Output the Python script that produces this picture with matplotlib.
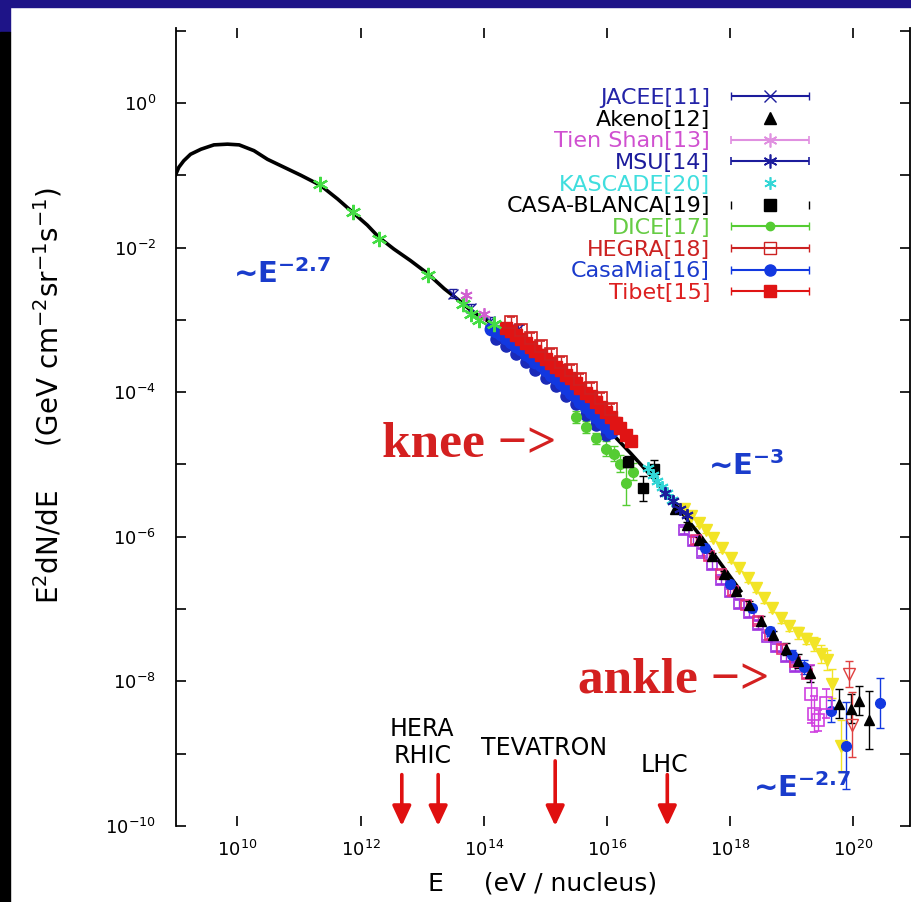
import numpy as np
import matplotlib
matplotlib.use('Agg')
import matplotlib.pyplot as plt
from matplotlib.patches import Rectangle
from matplotlib.ticker import FixedLocator, NullLocator, FuncFormatter
from matplotlib.legend_handler import HandlerErrorbar
from matplotlib.container import ErrorbarContainer

plt.rcParams['font.family'] = ['DejaVu Sans']
plt.rcParams['mathtext.default'] = 'regular'

# all values are log10(E / eV) and log10(E^2 dN/dE)
curve_logE = [9.00, 9.05, 9.13, 9.24, 9.41, 9.62, 9.84, 10.03, 10.27, 10.49, 10.76, 11.03,
              11.35, 11.63, 11.87, 12.11, 12.30, 12.54, 12.81, 13.09, 13.36, 13.57, 13.79,
              14.00, 14.17, 14.60, 15.25, 15.90, 16.39, 16.87, 17.52, 18.17]
curve_logF = [-0.99, -0.89, -0.80, -0.71, -0.64, -0.58, -0.57, -0.58, -0.66, -0.78, -0.89, -1.00,
              -1.14, -1.33, -1.51, -1.69, -1.86, -2.02, -2.18, -2.36, -2.57, -2.71, -2.87,
              -2.98, -3.07, -3.37, -3.86, -4.41, -4.85, -5.30, -5.99, -6.75]

direct_logE = [11.35, 11.87, 12.30, 13.09, 13.66, 13.79, 13.92, 14.16]
direct_logF = [-1.12, -1.51, -1.88, -2.38, -2.78, -2.92, -3.00, -3.06]

jacee_logE = [13.50, 13.80, 14.10, 14.55]
jacee_logF = [-2.64, -2.84, -3.02, -3.12]

tienshan_logE = [13.71, 14.00]
tienshan_logF = [-2.66, -2.92]

casamia_logE = [14.11, 14.20, 14.28, 14.36, 14.44, 14.52, 14.60, 14.68, 14.76, 14.84, 14.93, 15.01,
                15.09, 15.17, 15.25, 15.33, 15.41, 15.49, 15.57, 15.66, 15.74, 15.82, 15.90, 15.98, 16.06]
casamia_logF = [-3.12, -3.15, -3.19, -3.25, -3.30, -3.36, -3.41, -3.47, -3.52, -3.58, -3.63, -3.69,
                -3.76, -3.81, -3.88, -3.94, -4.01, -4.06, -4.13, -4.20, -4.27, -4.34, -4.41, -4.48, -4.55]

bluelow_logE = [14.20, 14.36, 14.52, 14.68, 14.84, 15.01, 15.17, 15.33, 15.49, 15.66, 15.82, 15.98]
bluelow_logF = [-3.26, -3.36, -3.47, -3.58, -3.69, -3.80, -3.92, -4.05, -4.17, -4.31, -4.45, -4.59]

tibet_logE = [14.36, 14.44, 14.52, 14.60, 14.68, 14.76, 14.84, 14.93, 15.01, 15.09, 15.17, 15.25, 15.33,
              15.41, 15.49, 15.57, 15.66, 15.74, 15.82, 15.90, 15.98, 16.06, 16.14, 16.22, 16.31, 16.39]
tibet_logF = [-3.11, -3.15, -3.21, -3.26, -3.32, -3.37, -3.43, -3.48, -3.54, -3.59, -3.65, -3.70, -3.76,
              -3.81, -3.88, -3.94, -4.01, -4.06, -4.13, -4.20, -4.27, -4.35, -4.42, -4.50, -4.59, -4.67]

hegra_logE = [14.44, 14.60, 14.76, 14.93, 15.09, 15.25, 15.41, 15.57, 15.74, 15.90, 16.06]
hegra_logF = [-3.03, -3.14, -3.25, -3.36, -3.47, -3.58, -3.69, -3.82, -3.94, -4.08, -4.23]

dice_logE = [15.49, 15.66, 15.82, 15.98, 16.11, 16.22, 16.31, 16.42]
dice_logF = [-4.34, -4.48, -4.64, -4.78, -4.85, -4.99, -5.26, -5.10]
dice_err = [0.08, 0.08, 0.08, 0.10, 0.10, 0.12, 0.30, 0.12]

casab_logE = [16.34, 16.58, 16.76]
casab_logF = [-4.96, -5.33, -5.06]
casab_err = [0.07, 0.17, 0.12]

kascade_logE = [16.66, 16.74, 16.82, 16.90, 16.98, 17.06]
kascade_logF = [-5.05, -5.14, -5.23, -5.31, -5.40, -5.49]

msu_logE = [16.95, 17.07, 17.18, 17.30]
msu_logF = [-5.40, -5.51, -5.61, -5.70]

akeno_logE = [17.10, 17.30, 17.50, 17.70, 17.90, 18.10, 18.30, 18.50, 18.70, 18.90, 19.10, 19.30,
              19.76, 19.96, 20.09, 20.25]
akeno_logF = [-5.62, -5.84, -6.05, -6.27, -6.52, -6.75, -6.94, -7.16, -7.36, -7.55, -7.72, -7.89,
              -8.31, -8.38, -8.27, -8.54]
akeno_err = [0.04, 0.04, 0.04, 0.04, 0.05, 0.05, 0.05, 0.06, 0.06, 0.08, 0.10, 0.12,
             0.20, 0.20, 0.20, 0.40]

purple_logE = [17.25, 17.40, 17.55, 17.70, 17.85, 18.00, 18.15, 18.30, 18.45, 18.60, 18.75, 18.90, 19.05]
purple_logF = [-5.91, -6.06, -6.22, -6.39, -6.60, -6.77, -6.93, -7.06, -7.22, -7.38, -7.53, -7.67, -7.80]

pink_logE = [17.45, 17.65, 17.85, 18.05, 18.25, 18.45, 18.65, 18.85, 19.05, 19.25]
pink_logF = [-6.05, -6.27, -6.51, -6.75, -6.94, -7.16, -7.36, -7.55, -7.73, -7.90]

yellow_logE = [17.25, 17.37, 17.49, 17.61, 17.73, 17.87, 18.01, 18.15, 18.29, 18.42, 18.55, 18.68,
               18.82, 18.96, 19.10, 19.23, 19.36, 19.47, 19.58, 19.65, 19.80]
yellow_logF = [-5.61, -5.71, -5.81, -5.91, -6.02, -6.16, -6.30, -6.43, -6.57, -6.71, -6.85, -6.98,
               -7.12, -7.23, -7.33, -7.41, -7.48, -7.62, -7.70, -8.03, -8.89]
yellow_err = [0.04, 0.04, 0.04, 0.04, 0.04, 0.05, 0.05, 0.05, 0.05, 0.06, 0.06, 0.06,
              0.07, 0.07, 0.08, 0.08, 0.10, 0.12, 0.14, 0.20, 0.35]

bandblue_logE = [17.60, 18.00, 18.35, 18.65, 19.00, 19.20, 19.63, 19.88, 20.44]
bandblue_logF = [-6.16, -6.65, -6.99, -7.31, -7.64, -7.80, -8.41, -8.89, -8.30]
bandblue_err = [0.04, 0.05, 0.05, 0.06, 0.08, 0.10, 0.15, 0.60, 0.35]

tail_sq_logE = [19.31, 19.36, 19.42, 19.55]
tail_sq_logF = [-8.17, -8.45, -8.54, -8.30]
tail_sq_err = [0.40, 0.25, 0.15, 0.20]

tail_red_logE = [19.93, 19.98]
tail_red_logF = [-7.90, -8.60]
tail_red_err = [0.18, 0.45]

accel_names = ['HERA', 'RHIC', 'TEVATRON', 'LHC']
accel_logE = [12.67, 13.26, 15.16, 16.98]
accel_arrow_top = [-9.29, -9.29, -9.10, -9.29]

navy = '#1c1c9c'
blue = '#1238e0'
red = '#e01414'
green = '#55cc33'
cyan = '#33d6d6'
magenta = '#d060d0'
yellow = '#f2e426'


def lin(a):
    return 10 ** np.asarray(a, dtype=float)


def logerr(lf, e):
    lf = np.asarray(lf, dtype=float)
    e = np.asarray(e, dtype=float) * np.ones_like(lf)
    return [10 ** lf - 10 ** (lf - e), 10 ** (lf + e) - 10 ** lf]


fig = plt.figure(figsize=(9.11, 9.02), dpi=100)
fig.patch.set_facecolor('white')
ax = fig.add_axes([0.1929, 0.0843, 0.8060, 0.8847])
ax.set_xscale('log')
ax.set_yscale('log')

ax.plot(lin(curve_logE), lin(curve_logF), color='black', lw=2.6, zorder=2)

eb = dict(ls='none', capsize=3, elinewidth=1.0, capthick=1.0, zorder=3)
ax.plot(lin(direct_logE), lin(direct_logF), ls='none', marker=(6, 2, 0), ms=11, mew=1.6,
        color='#44dd44', zorder=4)
ax.errorbar(lin(jacee_logE), lin(jacee_logF), yerr=logerr(jacee_logF, 0.06), marker='x', ms=7,
            color=navy, **eb)
ax.plot(lin(tienshan_logE), lin(tienshan_logF), ls='none', marker=(6, 2, 0), ms=9, mew=1.3,
        color=magenta, zorder=4)
ax.errorbar(lin(bluelow_logE), lin(bluelow_logF), yerr=logerr(bluelow_logF, 0.05), marker='o', ms=8,
            color='#1a2ab8', **eb)
ax.errorbar(lin(casamia_logE), lin(casamia_logF), yerr=logerr(casamia_logF, 0.05), marker='o', ms=9,
            color=blue, **eb)
ax.errorbar(lin(tibet_logE), lin(tibet_logF), yerr=logerr(tibet_logF, 0.07), marker='s', ms=9,
            color=red, **eb)
ax.errorbar(lin(hegra_logE), lin(hegra_logF), yerr=logerr(hegra_logF, 0.07), marker='s', ms=8,
            mfc='none', mew=1.2, color='#d02020', **eb)
ax.errorbar(lin(dice_logE), lin(dice_logF), yerr=logerr(dice_logF, dice_err), marker='o', ms=7,
            color=green, **eb)
ax.errorbar(lin(casab_logE), lin(casab_logF), yerr=logerr(casab_logF, casab_err), marker='s', ms=7,
            color='black', **eb)
ax.plot(lin(kascade_logE), lin(kascade_logF), ls='none', marker=(6, 2, 0), ms=9, mew=1.4,
        color=cyan, zorder=4)
ax.plot(lin(msu_logE), lin(msu_logF), ls='none', marker=(6, 2, 0), ms=9, mew=1.4,
        color=navy, zorder=4)
ax.errorbar(lin(yellow_logE), lin(yellow_logF), yerr=logerr(yellow_logF, yellow_err), marker='v', ms=8,
            color=yellow, **eb)
ax.errorbar(lin(purple_logE), lin(purple_logF), yerr=logerr(purple_logF, 0.05), marker='s', ms=7,
            mfc='none', mew=1.2, color='#a030e0', **eb)
ax.errorbar(lin(pink_logE), lin(pink_logF), yerr=logerr(pink_logF, 0.05), marker='s', ms=7,
            mfc='none', mew=1.2, color='#e8307a', **eb)
ax.errorbar(lin(bandblue_logE), lin(bandblue_logF), yerr=logerr(bandblue_logF, bandblue_err),
            marker='o', ms=7, color=blue, **eb)
ax.errorbar(lin(akeno_logE), lin(akeno_logF), yerr=logerr(akeno_logF, akeno_err), marker='^', ms=7,
            color='black', **eb)
ax.errorbar(lin(tail_sq_logE), lin(tail_sq_logF), yerr=logerr(tail_sq_logF, tail_sq_err), marker='s',
            ms=8, mfc='none', mew=1.2, color='#d040e0', **eb)
ax.errorbar(lin(tail_red_logE), lin(tail_red_logF), yerr=logerr(tail_red_logF, tail_red_err),
            marker='v', ms=8, mfc='none', mew=1.0, color='#e04040', **eb)

ax.set_xlim(1e9, 10 ** 20.92)
ax.set_ylim(1e-10, 10 ** 1.037)

ax.xaxis.set_major_locator(FixedLocator(lin([10, 12, 14, 16, 18, 20])))
ax.xaxis.set_minor_locator(NullLocator())
ax.yaxis.set_major_locator(FixedLocator(lin(np.arange(-10, 2))))
ax.yaxis.set_minor_locator(NullLocator())


def ylab(v, pos):
    p = int(round(np.log10(v)))
    return r'$10^{%d}$' % p if p % 2 == 0 else ''


ax.xaxis.set_major_formatter(FuncFormatter(lambda v, pos: r'$10^{%d}$' % int(round(np.log10(v)))))
ax.yaxis.set_major_formatter(FuncFormatter(ylab))
ax.tick_params(axis='both', which='major', direction='in', top=True, right=True,
               length=7.5, width=1.2, labelsize=13)
ax.tick_params(axis='x', pad=10)
ax.tick_params(axis='y', pad=14)
for s in ['top', 'bottom']:
    ax.spines[s].set_visible(False)
for s in ['left', 'right']:
    ax.spines[s].set_linewidth(1.3)

ax.set_xlabel('E     (eV / nucleus)', fontsize=18)
ax.xaxis.set_label_coords(0.5, -0.057)
ax.set_ylabel(r'E$^2$dN/dE     (GeV cm$^{-2}$sr$^{-1}$s$^{-1}$)', fontsize=20)
ax.yaxis.set_label_coords(-0.151, 0.54)

# legend built from proxy artists, text on the left
leg_labels = ['JACEE[11]', 'Akeno[12]', 'Tien Shan[13]', 'MSU[14]', 'KASCADE[20]',
              'CASA-BLANCA[19]', 'DICE[17]', 'HEGRA[18]', 'CasaMia[16]', 'Tibet[15]']
leg_text_colors = ['#2424a8', 'black', '#d050d0', '#1c1c9c', '#40dede',
                   'black', '#66cc44', '#cc2222', '#1a3acc', '#dd1f1f']
handles = [
    ax.errorbar([np.nan], [np.nan], xerr=[1], marker='x', ms=8, color=navy, capsize=3, ls='none'),
    ax.plot([np.nan], [np.nan], ls='none', marker='^', ms=8, color='black')[0],
    ax.errorbar([np.nan], [np.nan], xerr=[1], marker=(6, 2, 0), ms=10, mew=1.2, color='#e090e0',
                capsize=3, ls='none'),
    ax.errorbar([np.nan], [np.nan], xerr=[1], marker=(6, 2, 0), ms=10, mew=1.2, color=navy,
                capsize=3, ls='none'),
    ax.plot([np.nan], [np.nan], ls='none', marker=(6, 2, 0), ms=9, mew=1.2, color=cyan)[0],
    ax.errorbar([np.nan], [np.nan], xerr=[1], marker='s', ms=8, color='black', capsize=3,
                elinewidth=0, ls='none'),
    ax.errorbar([np.nan], [np.nan], xerr=[1], marker='o', ms=6, color=green, capsize=3, ls='none'),
    ax.errorbar([np.nan], [np.nan], xerr=[1], marker='s', ms=8, mfc='none', color='#cc2222',
                capsize=3, ls='none'),
    ax.errorbar([np.nan], [np.nan], xerr=[1], marker='o', ms=8, color=blue, capsize=3, ls='none'),
    ax.errorbar([np.nan], [np.nan], xerr=[1], marker='s', ms=8, color=red, capsize=3, ls='none'),
]
fig.legend(handles, leg_labels, loc='upper right', bbox_to_anchor=(809 / 911, 1 - 88 / 902),
           frameon=False, markerfirst=False, fontsize=16, labelcolor=leg_text_colors,
           handlelength=3.5, handletextpad=0.95, labelspacing=0.075, borderpad=0,
           borderaxespad=0, numpoints=1,
           handler_map={ErrorbarContainer: HandlerErrorbar(xerr_size=1.76)})

# accelerator energies
for name, le, top in zip(accel_names, accel_logE, accel_arrow_top):
    ax.annotate('', xy=(10 ** le, 1e-10), xytext=(10 ** le, 10 ** top),
                arrowprops=dict(arrowstyle='-|>,head_length=0.6,head_width=0.28', color='#e01010',
                                lw=2.6, mutation_scale=20, shrinkA=0, shrinkB=0), zorder=5)
ax.text(1e13, 10 ** -8.66, 'HERA', fontsize=17, ha='center', va='center')
ax.text(1e13, 10 ** -9.03, 'RHIC', fontsize=17, ha='center', va='center')
ax.text(10 ** 14.98, 10 ** -8.92, 'TEVATRON', fontsize=17, ha='center', va='center')
ax.text(10 ** 16.93, 10 ** -9.16, 'LHC', fontsize=17, ha='center', va='center')

knee_col = '#d42020'
ax.text(10 ** 12.35, 10 ** -4.90, 'knee \u2212>', fontsize=37, fontweight='bold',
        family='Liberation Serif', color=knee_col, va='baseline', ha='left')
ax.text(10 ** 15.53, 10 ** -8.16, 'ankle \u2212>', fontsize=37, fontweight='bold',
        family='Liberation Serif', color=knee_col, va='baseline', ha='left')

slope_col = '#1a3ccc'
ax.text(10 ** 9.93, 10 ** -2.49, '~E$^{-2.7}$', fontsize=21, fontweight='bold', color=slope_col,
        va='baseline', ha='left')
ax.text(10 ** 17.64, 10 ** -5.15, '~E$^{-3}$', fontsize=21, fontweight='bold', color=slope_col,
        va='baseline', ha='left')
ax.text(10 ** 18.37, 10 ** -9.60, '~E$^{-2.7}$', fontsize=21, fontweight='bold', color=slope_col,
        va='baseline', ha='left')

# frame strips along the top and left edges
fig.patches.append(Rectangle((0, 1 - 7 / 902), 1, 7 / 902, transform=fig.transFigure,
                             color='#1e1488', zorder=10))
fig.patches.append(Rectangle((0, 1 - 32 / 902), 10 / 911, 32 / 902, transform=fig.transFigure,
                             color='#1e1488', zorder=10))
fig.patches.append(Rectangle((0, 0), 10 / 911, 1 - 32 / 902, transform=fig.transFigure,
                             color='black', zorder=10))

fig.savefig('out.png', dpi=100)
